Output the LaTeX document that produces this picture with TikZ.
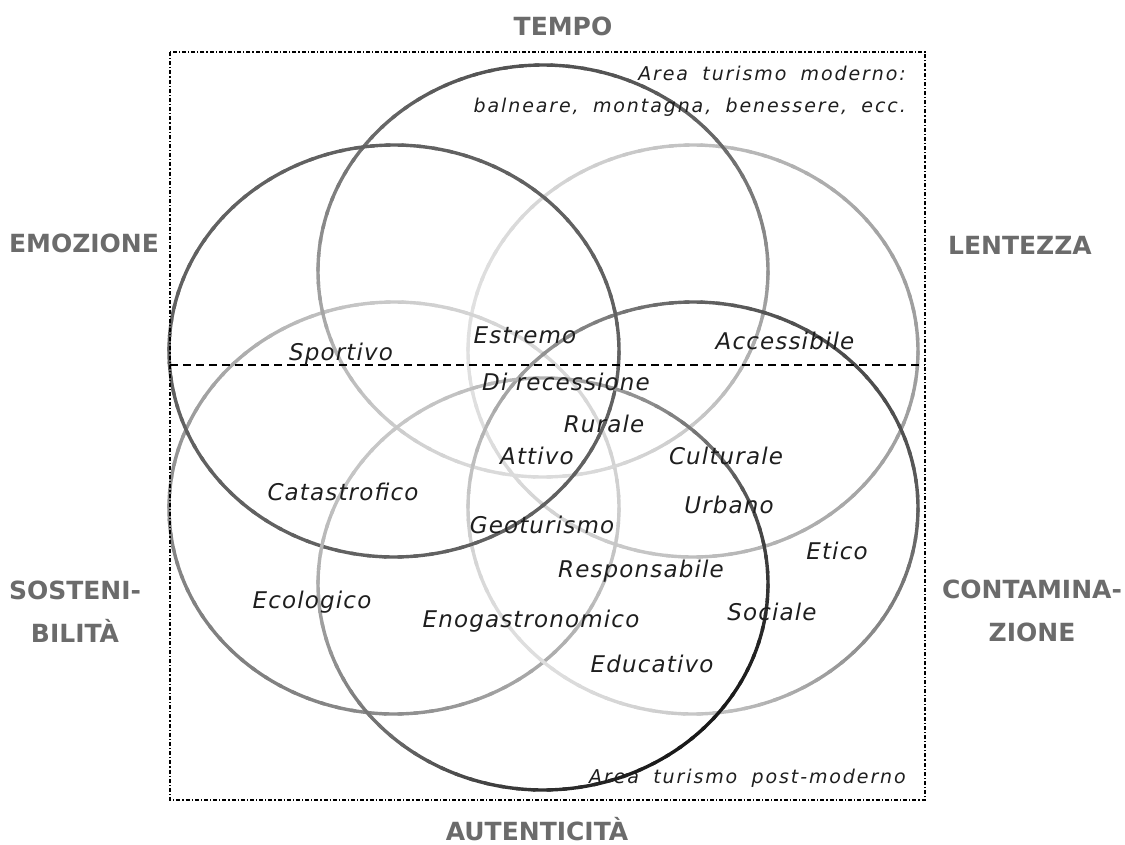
\documentclass[tikz,border=0pt]{standalone}
\usepackage{fontspec}
\setmainfont{DejaVu Sans}
\newfontfamily\kindfont{DejaVu Sans}[LetterSpace=5]
\newfontfamily\notefont{DejaVu Sans}[LetterSpace=10,WordSpace=1.8]
\definecolor{themegray}{HTML}{6B6B6B}
\definecolor{inkgray}{HTML}{1E1E1E}
\tikzset{
  ringline/.style = {line width=3.4pt, line cap=round},
  theme/.style = {font=\fontsize{25}{43}\selectfont\bfseries, text=themegray, align=center},
  kind/.style = {font=\kindfont\fontsize{23}{26}\selectfont\itshape, text=inkgray},
  areanote/.style = {font=\notefont\fontsize{19}{32}\selectfont\itshape, text=inkgray, align=right, inner sep=0pt}
}
% ellipse with a stroke that shades from a dark side to a light side
\newcommand{\ring}[4]{%
  \colorlet{ringdark}{#2}
  \colorlet{ringlight}{#3}
  \foreach \a in {0,4,...,356}{
    \pgfmathsetmacro{\m}{50+50*cos(\a-#4)}
    \draw[ringline,ringdark!\m!ringlight] (#1) ++(\a:225 and 206) arc[start angle=\a,end angle=\a+5,x radius=225,y radius=206];
  }
}

\begin{document}
\begin{tikzpicture}[x=1pt,y=-1pt]
  \useasboundingbox (0,0) rectangle (1125,844);
  % centres of the six areas
  \coordinate (ctempo) at (543,271);
  \coordinate (cemozione) at (394,351);
  \coordinate (clentezza) at (693,351);
  \coordinate (csostenibilita) at (394,508);
  \coordinate (ccontaminazione) at (693,508);
  \coordinate (cautenticita) at (543,584);

  \ring{clentezza}{black!38}{black!12}{0}
  \ring{csostenibilita}{black!50}{black!15}{135}
  \ring{ctempo}{black!68}{black!14}{270}
  \ring{ccontaminazione}{black!70}{black!13}{-45}
  \ring{cemozione}{black!62}{black!62}{0}
  \ring{cautenticita}{black!90}{black!22}{45}

  % frame and divide
  \draw[line width=1.2pt,dash pattern=on 4pt off 2pt on 1.2pt off 2pt] (170,52) rectangle (925,800);
  \draw[line width=1.2pt,dash pattern=on 8pt off 5pt] (170,365) -- (925,365);

  % themes
  \node[theme] (tempo) at (563,26) {TEMPO};
  \node[theme] (emozione) at (84,243) {EMOZIONE};
  \node[theme] (lentezza) at (1020,245) {LENTEZZA};
  \node[theme] (sostenibilita) at (75,612) {SOSTENI-\\BILITÀ};
  \node[theme] (contaminazione) at (1032,611) {CONTAMINA-\\ZIONE};
  \node[theme,anchor=base] (autenticita) at (537,840) {AUTENTICITÀ};

  % areas
  \node[areanote,anchor=north east] (moderno) at (906,66) {Area turismo moderno:\\balneare, montagna, benessere, ecc.};
  \node[areanote,anchor=base east] (postmoderno) at (906,783) {Area turismo post-moderno};

  % kinds of tourism
  \node[kind] (sportivo) at (341,354) {Sportivo};
  \node[kind] (estremo) at (525,335) {Estremo};
  \node[kind] (accessibile) at (785,341) {Accessibile};
  \node[kind] (recessione) at (566,382) {Di recessione};
  \node[kind] (rurale) at (604,424) {Rurale};
  \node[kind] (attivo) at (537,456) {Attivo};
  \node[kind] (culturale) at (726,456) {Culturale};
  \node[kind] (catastrofico) at (343,492) {Catastrofico};
  \node[kind] (urbano) at (729,505) {Urbano};
  \node[kind] (geoturismo) at (542,525) {Geoturismo};
  \node[kind] (etico) at (837,551) {Etico};
  \node[kind] (responsabile) at (641,571) {Responsabile};
  \node[kind] (ecologico) at (312,602) {Ecologico};
  \node[kind] (enogastronomico) at (531,621) {Enogastronomico};
  \node[kind] (sociale) at (772,612) {Sociale};
  \node[kind] (educativo) at (652,664) {Educativo};
\end{tikzpicture}
\end{document}
